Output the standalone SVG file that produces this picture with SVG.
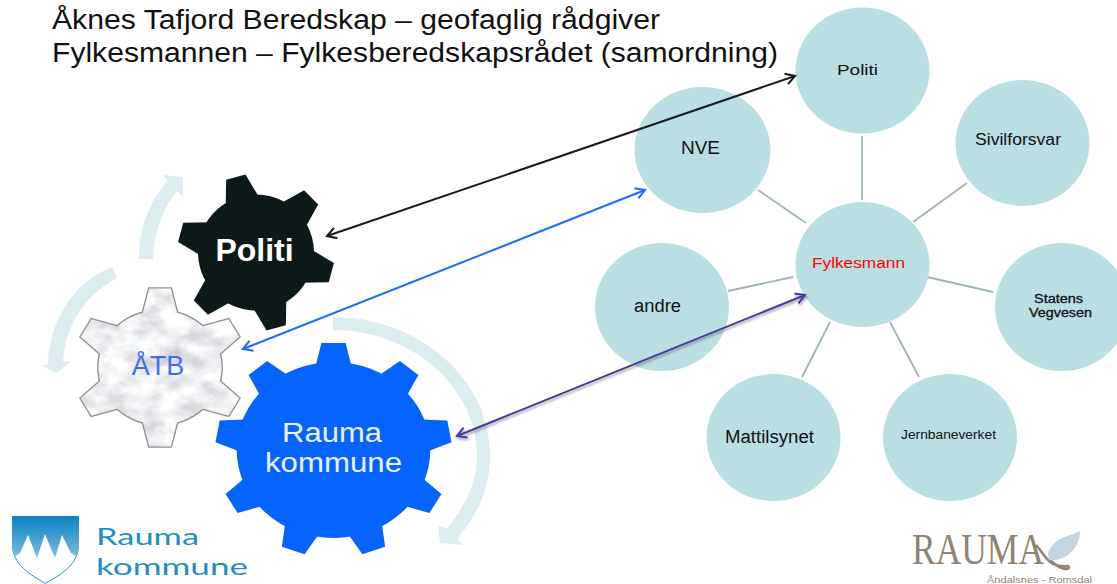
<svg xmlns="http://www.w3.org/2000/svg" width="1117" height="584" viewBox="0 0 1117 584">
<style>
text{font-family:"Liberation Sans",Arial,sans-serif;fill:#111}
.title{font-size:27px}
.c{text-anchor:middle}
.node{fill:#badfe3}
.spoke{stroke:#9db4b7;stroke-width:1.8;fill:none}
.sweep{fill:#dcedef}
.link{fill:none;stroke-width:2}
</style>
<defs>
<marker id="hk" viewBox="0 0 12 12" refX="10.5" refY="6" markerWidth="13" markerHeight="13" markerUnits="userSpaceOnUse" orient="auto-start-reverse">
<path d="M2 1 L10.5 6 L2 11" fill="none" stroke="context-stroke" stroke-width="1.9"/>
</marker>
<polygon id="tP" points="-18,-50 -10,-78 10,-78 18,-50"/>
<polygon id="tA" points="-17,-50 -10,-79 10,-79 17,-50"/>
<polygon id="tR" points="-16,-85 -11,-107 11,-107 16,-85"/>
<g id="gearA">
<circle r="57"/>
<use href="#tA"/><use href="#tA" transform="rotate(60)"/><use href="#tA" transform="rotate(120)"/><use href="#tA" transform="rotate(180)"/><use href="#tA" transform="rotate(240)"/><use href="#tA" transform="rotate(300)"/>
</g>
<filter id="marble" x="-5%" y="-5%" width="110%" height="110%">
<feTurbulence type="fractalNoise" baseFrequency="0.04 0.06" numOctaves="4" seed="7"/>
<feColorMatrix values="0.75 0 0 0 0.47 0.75 0 0 0 0.48 0.75 0 0 0 0.5 0 0 0 0 1"/>
<feComposite in2="SourceAlpha" operator="in"/>
</filter>
<linearGradient id="sh" x1="0" y1="0" x2="0" y2="1"><stop offset="0" stop-color="#0a7fc2"/><stop offset="1" stop-color="#7cc0de"/></linearGradient>
<filter id="soft"><feGaussianBlur stdDeviation="0.7"/></filter>
<filter id="shadow" x="-5%" y="-20%" width="110%" height="140%"><feDropShadow dx="1" dy="2" stdDeviation="1.2" flood-color="#000" flood-opacity="0.35"/></filter>
</defs>

<text class="title" x="52" y="29" textLength="608" lengthAdjust="spacingAndGlyphs">Åknes Tafjord Beredskap – geofaglig rådgiver</text>
<text class="title" x="52" y="62" textLength="726" lengthAdjust="spacingAndGlyphs">Fylkesmannen – Fylkesberedskapsrådet (samordning)</text>

<g id="sweeps">
<path class="sweep" d="M139 259 C139 228 148 205 167 181 L163 175 L183 177 L183 197 L177 191 C163 207 154 232 153 259 Z"/>
<path class="sweep" d="M112 267 C78 280 50 315 48 364 L42 366 L57 373 L71 361 L63 362 C65 325 85 295 117 278 Z"/>
<path class="sweep" d="M333 317 C420 317 490 380 490 455 C490 490 477 515 458 538 L462 545 L440 543 L438 525 L447 529 C465 505 477 485 477 455 C477 390 415 330 333 330 Z"/>
</g>

<g id="spokes">
<line class="spoke" x1="862" y1="136" x2="862" y2="200"/>
<line class="spoke" x1="758" y1="190" x2="806" y2="223"/>
<line class="spoke" x1="967" y1="183" x2="913" y2="222"/>
<line class="spoke" x1="728" y1="291" x2="793" y2="277"/>
<line class="spoke" x1="927" y1="277" x2="993" y2="292"/>
<line class="spoke" x1="830" y1="322" x2="802" y2="377"/>
<line class="spoke" x1="890" y1="322" x2="919" y2="377"/>
</g>

<g id="node-politi"><ellipse class="node" cx="862.500" cy="70.500" rx="67" ry="63"/><text x="837" y="75" font-size="15" textLength="41" lengthAdjust="spacingAndGlyphs">Politi</text></g>
<g id="node-nve"><ellipse class="node" cx="702.500" cy="150" rx="68" ry="63"/><text x="681" y="154" font-size="18" textLength="39" lengthAdjust="spacingAndGlyphs">NVE</text></g>
<g id="node-sivilforsvar"><ellipse class="node" cx="1022.500" cy="143" rx="67" ry="63"/><text x="975" y="145" font-size="16" textLength="86" lengthAdjust="spacingAndGlyphs">Sivilforsvar</text></g>
<g id="node-fylkesmann"><ellipse class="node" cx="862.500" cy="264.500" rx="67" ry="62.500"/><text x="812" y="268" font-size="15" textLength="93" lengthAdjust="spacingAndGlyphs" style="fill:#f00">Fylkesmann</text></g>
<g id="node-andre"><ellipse class="node" cx="662" cy="307" rx="67" ry="64"/><text x="634" y="312" font-size="18" textLength="47" lengthAdjust="spacingAndGlyphs">andre</text></g>
<g id="node-statens"><ellipse class="node" cx="1062" cy="307" rx="67" ry="64"/><text x="1034" y="303" font-size="12" textLength="49" lengthAdjust="spacingAndGlyphs" stroke="#111" stroke-width="0.3">Statens</text><text x="1029" y="317" font-size="12" textLength="63" lengthAdjust="spacingAndGlyphs" stroke="#111" stroke-width="0.3">Vegvesen</text></g>
<g id="node-mattilsynet"><ellipse class="node" cx="773.500" cy="437.500" rx="67" ry="63.500"/><text x="725" y="443" font-size="18" textLength="89" lengthAdjust="spacingAndGlyphs">Mattilsynet</text></g>
<g id="node-jernbaneverket"><ellipse class="node" cx="950" cy="437.500" rx="67" ry="63.500"/><text x="901" y="439" font-size="12" textLength="95" lengthAdjust="spacingAndGlyphs">Jernbaneverket</text></g>

<g id="gear-politi">
<g transform="translate(256 252.500) rotate(-15)" fill="#0e1a1a">
<circle r="58"/>
<use href="#tP"/><use href="#tP" transform="rotate(60)"/><use href="#tP" transform="rotate(120)"/><use href="#tP" transform="rotate(180)"/><use href="#tP" transform="rotate(240)"/><use href="#tP" transform="rotate(300)"/>
</g>
<text class="c" x="254.500" y="261" font-size="32" font-weight="bold" style="fill:#fff">Politi</text>
</g>

<g id="gear-atb">
<use href="#gearA" transform="translate(160 367.500) scale(1.08 1)" fill="#8f9092" stroke="#8f9092" stroke-width="2.500"/>
<use href="#gearA" transform="translate(160 367.500) scale(1.08 1)" fill="#000" filter="url(#marble)"/>
<text class="c" x="158" y="375" font-size="27" style="fill:#3f6df0">ÅTB</text>
</g>

<g id="gear-rauma">
<g transform="translate(333.500 450) scale(1.1 1)" fill="#0564ff">
<circle r="88"/>
<use href="#tR"/><use href="#tR" transform="rotate(40)"/><use href="#tR" transform="rotate(80)"/><use href="#tR" transform="rotate(120)"/><use href="#tR" transform="rotate(160)"/><use href="#tR" transform="rotate(200)"/><use href="#tR" transform="rotate(240)"/><use href="#tR" transform="rotate(280)"/><use href="#tR" transform="rotate(320)"/>
</g>
<text x="282" y="442" font-size="27" textLength="100" lengthAdjust="spacingAndGlyphs" style="fill:#eef1ff">Rauma</text>
<text x="265" y="472" font-size="27" textLength="137" lengthAdjust="spacingAndGlyphs" style="fill:#eef1ff">kommune</text>
</g>

<g id="connectors">
<line class="link" x1="327" y1="236" x2="795" y2="76" stroke="#1a1a1a" marker-start="url(#hk)" marker-end="url(#hk)"/>
<line class="link" x1="243" y1="349" x2="645" y2="190" stroke="#1b6cff" marker-start="url(#hk)" marker-end="url(#hk)"/>
<line class="link" x1="457" y1="436" x2="805" y2="295" stroke="#47399c" filter="url(#shadow)" marker-start="url(#hk)" marker-end="url(#hk)"/>
</g>

<g id="logo-rauma-kommune">
<path d="M12.500 516.500 H78.500 V545 C78.500 565 60 575 45.500 583.500 C31 575 12.500 565 12.500 545 Z" fill="#fff" stroke="#2a93c8" stroke-width="1"/>
<path d="M12 516 H79 V548 L76 556 L71 553 L62 535 L55 558 L45 534 L37 558 L28 535 L20 553 L15 556 L12 548 Z" fill="url(#sh)"/>
<text x="96" y="545" font-size="24" textLength="103" lengthAdjust="spacingAndGlyphs" style="font-family:Lato,sans-serif;fill:#1f8fc0">Rauma</text>
<text x="96" y="575" font-size="24" textLength="152" lengthAdjust="spacingAndGlyphs" style="font-family:Lato,sans-serif;fill:#1f8fc0">kommune</text>
</g>

<g id="logo-rauma">
<g filter="url(#soft)">
<path d="M1050 560 C1062 572 1072 570 1068 566 C1048 568 1046 556 1036 545" fill="none" stroke="#8f8374" stroke-width="2.500"/>
<path d="M1048 553 C1054 537 1068 537 1080 531 C1080 548 1066 562 1049 560 Z" fill="#c3d5e2"/>
</g>
<text x="912" y="564" font-size="44" textLength="132" lengthAdjust="spacingAndGlyphs" style="font-family:'Liberation Serif',serif;fill:#8f8374">RAUMA</text>
<text x="987" y="583" font-size="9" textLength="105" lengthAdjust="spacingAndGlyphs" style="fill:#8f8374">Åndalsnes - Romsdal</text>
</g>
</svg>
